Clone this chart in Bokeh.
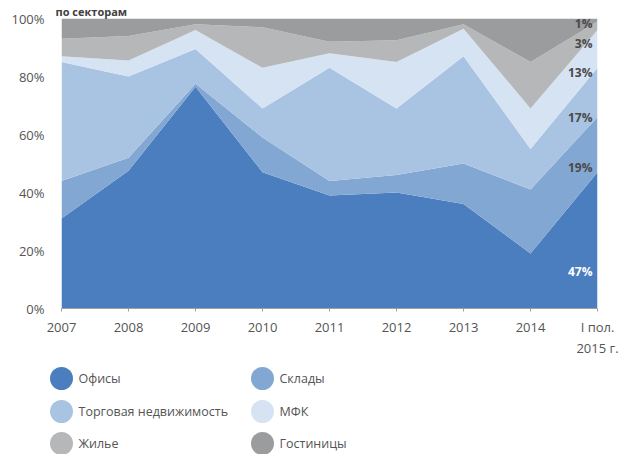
from bokeh.plotting import figure
from bokeh.models import ColumnDataSource, Range1d, FixedTicker
from bokeh.layouts import column
from bokeh.embed import file_html
from bokeh.resources import INLINE
from bokeh.core.properties import value

# ---- data (shares, %) ----
categories = ["2007", "2008", "2009", "2010", "2011", "2012", "2013", "2014", "I пол.\n2015 г."]
series_names = ["Офисы", "Склады", "Торговая недвижимость", "МФК", "Жилье", "Гостиницы"]
offices = [31, 47.5, 76.5, 47, 39, 40, 36, 19, 47]
warehouses = [13, 4.5, 1, 12, 5, 6, 14, 22, 19]
retail = [41, 28, 12, 10, 39, 23, 37, 14, 17]
mixed_use = [2, 5.5, 6.5, 14, 5, 16, 9.5, 14, 13]
residential = [6, 8.5, 2, 14, 4, 7.5, 1.5, 16, 3]
hotels = [7, 6, 2, 3, 8, 7.5, 2, 15, 1]
y_ticks = [0, 20, 40, 60, 80, 100]
title_text = "по секторам"

colors = ["#4a7ebf", "#82a7d3", "#a9c4e2", "#d5e3f2", "#b5b7b9", "#9a9c9e"]
keys = ["s0", "s1", "s2", "s3", "s4", "s5"]
all_series = [offices, warehouses, retail, mixed_use, residential, hotels]

FONT = "Open Sans"
LEFT, RIGHT, TOP, BOTTOM = 61, 25, 18, 50
H1 = 360

xs = list(range(len(categories)))
data = {"x": xs}
for k, s in zip(keys, all_series):
    data[k] = s
source = ColumnDataSource(data)

p = figure(width=622, height=H1, output_backend="svg", toolbar_location=None,
           x_range=Range1d(0, len(categories) - 1), y_range=Range1d(0, 100),
           min_border_left=LEFT, min_border_right=RIGHT, min_border_top=TOP,
           min_border_bottom=BOTTOM, title=title_text)
p.outline_line_color = None
p.grid.visible = False
p.background_fill_color = "white"
p.border_fill_color = "white"
p.frame_align = False

# title (mostly cropped in the reference)
p.title.align = "left"
p.title.offset = -6
p.title.standoff = 0
p.title.text_font = FONT
p.title.text_font_style = "bold"
p.title.text_font_size = "11px"
p.title.text_color = "#404040"

p.varea_stack(stackers=keys, x="x", color=colors, source=source)

# x axis
p.xaxis.ticker = FixedTicker(ticks=xs)
p.xaxis.major_label_overrides = {i: c for i, c in enumerate(categories)}
p.xaxis.axis_line_color = "#a0a0a0"
p.xaxis.major_tick_line_color = "#a0a0a0"
p.xaxis.major_tick_out = 3
p.xaxis.major_tick_in = 0
p.xaxis.minor_tick_line_color = None
p.xaxis.major_label_text_font = FONT
p.xaxis.major_label_text_font_size = "13px"
p.xaxis.major_label_text_color = "#555555"
p.xaxis.major_label_standoff = 6

# y axis
p.yaxis.ticker = FixedTicker(ticks=y_ticks)
p.yaxis.major_label_overrides = {t: f"{t}%" for t in y_ticks}
p.yaxis.axis_line_color = None
p.yaxis.major_tick_line_color = None
p.yaxis.minor_tick_line_color = None
p.yaxis.major_label_text_font = FONT
p.yaxis.major_label_text_font_size = "13px"
p.yaxis.major_label_text_color = "#555555"
p.yaxis.major_label_standoff = 11

# end-of-series value labels (last period)
last_vals = [s[-1] for s in all_series]
end_labels = [f"{int(round(v))}%" for v in last_vals]
label_y = [12.7, 48.6, 65.8, 81.5, 91.4, 98.3]  # annotation anchor positions
label_colors = ["white"] + ["#4a4a4a"] * 5
p.text(x=[xs[-1]] * len(end_labels), y=label_y, text=end_labels,
       text_align="right", text_baseline="middle", x_offset=-5,
       text_color=label_colors, text_font=value(FONT), text_font_style="bold",
       text_font_size="12px")

# ---- legend figure (frame covers whole canvas, page pixels) ----
lg = figure(width=622, height=454 - H1, output_backend="svg", toolbar_location=None,
            x_range=Range1d(0, 622), y_range=Range1d(454 - H1, 0),
            min_border=0, frame_align=False)
lg.outline_line_color = None
lg.axis.visible = False
lg.grid.visible = False

col_x = [61, 262]
row_y = [18, 51, 83]
for i, (name, c) in enumerate(zip(series_names, colors)):
    r, cidx = divmod(i, 2)
    lg.scatter(x=[col_x[cidx]], y=[row_y[r]], size=23, color=c, line_color=None)
    lg.text(x=[col_x[cidx] + 17], y=[row_y[r]], text=[name],
            text_baseline="middle", text_align="left",
            text_font=value(FONT), text_font_size="12.5px", text_color="#555555")

layout = column(p, lg, spacing=0)
open("out.html", "w").write(file_html(layout, INLINE))
